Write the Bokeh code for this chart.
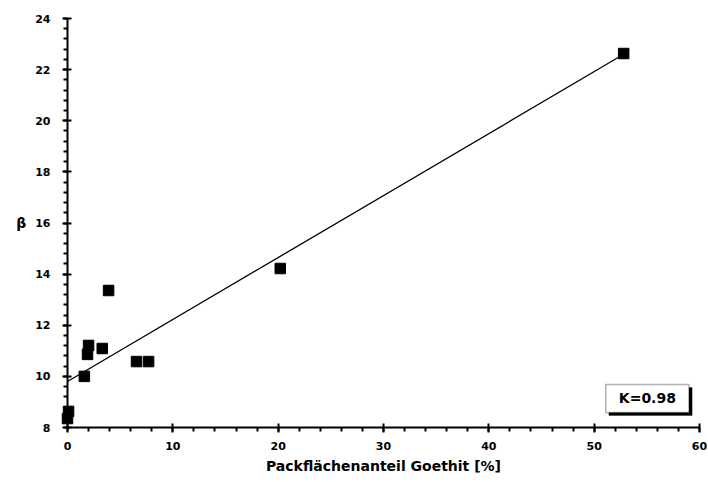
from bokeh.plotting import figure
from bokeh.models import Range1d, SingleIntervalTicker, BoxAnnotation, Label
from bokeh.embed import file_html
from bokeh.resources import INLINE

# data
goethit = [0.0, 0.1, 1.6, 1.9, 2.0, 3.3, 3.9, 6.55, 7.7, 20.2, 52.8]
beta = [8.35, 8.63, 10.0, 10.86, 11.21, 11.09, 13.36, 10.58, 10.58, 14.22, 22.63]
fit_x = [0.0, 52.8]
fit_y = [9.8, 22.6]
r_text = "K=0.98"
x_title = "Packflächenanteil Goethit [%]"
y_title = "β"

FONT = "DejaVu Sans"

p = figure(width=708, height=482, output_backend="svg", toolbar_location=None,
           x_range=Range1d(0, 60), y_range=Range1d(8, 24),
           frame_width=632, frame_height=409,
           min_border_left=67, min_border_right=9, min_border_top=18, min_border_bottom=55)
p.outline_line_color = None
p.grid.visible = False
p.background_fill_color = "white"
p.border_fill_color = "white"

p.line(fit_x, fit_y, line_color="black", line_width=1.3)
pts = p.scatter(goethit, beta, marker="square", size=10.5, fill_color="black", line_color="black")
pts.level = "overlay"

# axes
xa = p.xaxis[0]
xa.ticker = SingleIntervalTicker(interval=10, num_minor_ticks=5)
ya = p.yaxis[0]
ya.ticker = SingleIntervalTicker(interval=2, num_minor_ticks=5)

for ax in (xa, ya):
    ax.axis_line_width = 2
    ax.axis_line_color = "black"
    ax.major_tick_line_width = 2
    ax.minor_tick_line_width = 2
    ax.major_tick_in = 4
    ax.major_tick_out = 5
    ax.minor_tick_in = 0
    ax.minor_tick_out = 4
    ax.major_label_text_font = FONT
    ax.major_label_text_font_style = "bold"
    ax.major_label_text_font_size = "11px"
    ax.major_label_text_color = "black"
    ax.axis_label_text_font = FONT
    ax.axis_label_text_font_style = "bold"
    ax.axis_label_text_color = "black"

xa.major_label_standoff = 9
xa.axis_label = x_title
xa.axis_label_text_font_size = "14px"
xa.axis_label_standoff = 5
ya.major_label_standoff = 12
ya.axis_label = y_title
ya.axis_label_text_font_size = "14px"
ya.axis_label_orientation = "horizontal"
ya.axis_label_standoff = 6

# K box with drop shadow
p.add_layout(BoxAnnotation(left=51.4, right=59.3, bottom=8.47, top=9.56,
                           fill_color="black", fill_alpha=1, line_color="black", line_width=1))
p.add_layout(BoxAnnotation(left=51.1, right=59.0, bottom=8.59, top=9.68,
                           fill_color="white", fill_alpha=1, line_color="black", line_width=1.5))
p.add_layout(Label(x=55.05, y=9.135, text=r_text, text_align="center", text_baseline="middle",
                   text_font=FONT, text_font_style="bold", text_font_size="14px", text_color="black"))

open("out.html", "w").write(file_html(p, INLINE))
